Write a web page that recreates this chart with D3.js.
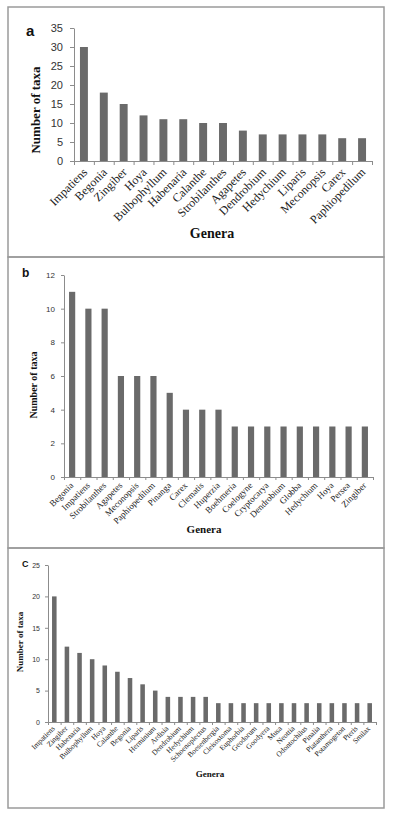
<!DOCTYPE html>
<html>
<head>
<meta charset="utf-8">
<script src="https://cdn.jsdelivr.net/npm/d3@7"></script>
<style>
  body { margin: 0; background: #fff; }
  svg { display: block; }
</style>
</head>
<body>
<svg width="395" height="818"></svg>
<script>
// panel a
const generaA = ['Impatiens', 'Begonia', 'Zingiber', 'Hoya', 'Bulbophyllum', 'Habenaria', 'Calanthe',
  'Strobilanthes', 'Agapetes', 'Dendrobium', 'Hedychium', 'Liparis', 'Meconopsis', 'Carex', 'Paphiopedilum'];
const taxaA = [30, 18, 15, 12, 11, 11, 10, 10, 8, 7, 7, 7, 7, 6, 6];
const ticksA = [0, 5, 10, 15, 20, 25, 30, 35];

// panel b
const generaB = ['Begonia', 'Impatiens', 'Strobilanthes', 'Agapetes', 'Meconopsis', 'Paphiopedilum', 'Pinanga',
  'Carex', 'Clematis', 'Huperzia', 'Boehmeria', 'Coelogyne', 'Cryptocarya', 'Dendrobium', 'Globba',
  'Hedychium', 'Hoya', 'Persea', 'Zingiber'];
const taxaB = [11, 10, 10, 6, 6, 6, 5, 4, 4, 4, 3, 3, 3, 3, 3, 3, 3, 3, 3];
const ticksB = [0, 2, 4, 6, 8, 10, 12];

// panel c
const generaC = ['Impatiens', 'Zingiber', 'Habenaria', 'Bulbophyllum', 'Hoya', 'Calanthe', 'Begonia', 'Liparis',
  'Herminium', 'Ardisia', 'Dendrobium', 'Hedychium', 'Schoenoplectus', 'Boesenbergia', 'Cleisostoma',
  'Euphorbia', 'Geodorum', 'Goodyera', 'Musa', 'Neottia', 'Odontochilus', 'Pinalia', 'Platanthera',
  'Potamogeton', 'Pteris', 'Smilax'];
const taxaC = [20, 12, 11, 10, 9, 8, 7, 6, 5, 4, 4, 4, 4, 3, 3, 3, 3, 3, 3, 3, 3, 3, 3, 3, 3, 3];
const ticksC = [0, 5, 10, 15, 20, 25];

const svg = d3.select('svg');
const serif = '"Liberation Serif", "Times New Roman", serif';
const sans = '"Liberation Sans", Arial, sans-serif';
const barColor = '#6a6a6a';
const axisColor = '#8c8c8c';

// outer boxes
[[7, 257], [257, 548], [548, 808]].forEach(([t, b]) => {
  svg.append('rect')
    .attr('x', 8).attr('y', t)
    .attr('width', 376).attr('height', b - t)
    .attr('fill', 'none')
    .attr('stroke', '#9a9a9a')
    .attr('stroke-width', 1.5);
});

const panel = opts => {
  const { genera, taxa, ticks, x0, x1, yBase, yTop } = opts;
  const g = svg.append('g');

  const x = d3.scaleBand().domain(genera).range([x0, x1]).paddingInner(opts.pad).paddingOuter(opts.pad / 2);
  const y = d3.scaleLinear().domain([0, d3.max(ticks)]).range([yBase, yTop]);
  const xEdge = d3.scaleLinear().domain([0, genera.length]).range([x0, x1]);

  g.selectAll('rect.bar').data(genera).join('rect')
    .attr('class', 'bar')
    .attr('x', d => x(d))
    .attr('width', x.bandwidth())
    .attr('y', (d, i) => y(taxa[i]))
    .attr('height', (d, i) => yBase - y(taxa[i]))
    .attr('fill', barColor);

  const yAxis = g.append('g')
    .attr('transform', `translate(${x0},0)`)
    .call(d3.axisLeft(y).tickValues(ticks).tickSize(opts.tick).tickPadding(opts.tickPad).tickSizeOuter(0));
  yAxis.selectAll('text')
    .attr('font-family', sans)
    .attr('font-size', opts.tickFont)
    .attr('fill', '#333');

  const xAxis = g.append('g')
    .attr('transform', `translate(0,${yBase})`)
    .call(d3.axisBottom(xEdge).tickValues(d3.range(genera.length + 1)).tickSize(opts.tick).tickFormat('').tickSizeOuter(0));

  g.selectAll('.domain, .tick line')
    .attr('stroke', axisColor);

  g.selectAll('text.lab').data(genera).join('text')
    .attr('class', 'lab')
    .attr('transform', d => `translate(${x(d) + x.bandwidth() / 2 + opts.labDx},${yBase + opts.labDy}) rotate(-45)`)
    .attr('text-anchor', 'end')
    .attr('font-family', serif)
    .attr('font-size', opts.labFont)
    .attr('fill', '#222')
    .text(d => d);

  g.append('text')
    .attr('transform', `translate(${opts.yLab[0]},${opts.yLab[1]}) rotate(-90)`)
    .attr('text-anchor', 'middle')
    .attr('font-family', serif)
    .attr('font-weight', 'bold')
    .attr('font-size', opts.titleFont)
    .attr('fill', '#111')
    .text('Number of taxa');

  g.append('text')
    .attr('x', opts.xLab[0]).attr('y', opts.xLab[1])
    .attr('text-anchor', 'middle')
    .attr('font-family', serif)
    .attr('font-weight', 'bold')
    .attr('font-size', opts.genFont)
    .attr('fill', '#111')
    .text('Genera');

  g.append('text')
    .attr('x', opts.letter[0]).attr('y', opts.letter[1])
    .attr('font-family', sans)
    .attr('font-weight', 'bold')
    .attr('font-size', opts.letterFont)
    .attr('fill', '#111')
    .text(opts.name);
};

panel({
  name: 'a', genera: generaA, taxa: taxaA, ticks: ticksA,
  x0: 74, x1: 372, yBase: 161, yTop: 28, pad: 0.6,
  tick: 4, tickPad: 7, tickFont: 11, labFont: 12, labDx: 4, labDy: 12,
  yLab: [40, 110], titleFont: 13, xLab: [212, 238], genFont: 14,
  letter: [26, 36], letterFont: 15
});

panel({
  name: 'b', genera: generaB, taxa: taxaB, ticks: ticksB,
  x0: 64, x1: 373, yBase: 477, yTop: 275, pad: 0.62,
  tick: 3, tickPad: 6, tickFont: 8, labFont: 9, labDx: 2, labDy: 9,
  yLab: [37, 385], titleFont: 10, xLab: [204, 533], genFont: 11,
  letter: [22, 277], letterFont: 12
});

panel({
  name: 'C', genera: generaC, taxa: taxaC, ticks: ticksC,
  x0: 48, x1: 376, yBase: 722, yTop: 565, pad: 0.64,
  tick: 3, tickPad: 5, tickFont: 7, labFont: 7.5, labDx: 1, labDy: 7,
  yLab: [23, 642], titleFont: 9, xLab: [210, 777], genFont: 9,
  letter: [22, 567], letterFont: 9
});
</script>
</body>
</html>
